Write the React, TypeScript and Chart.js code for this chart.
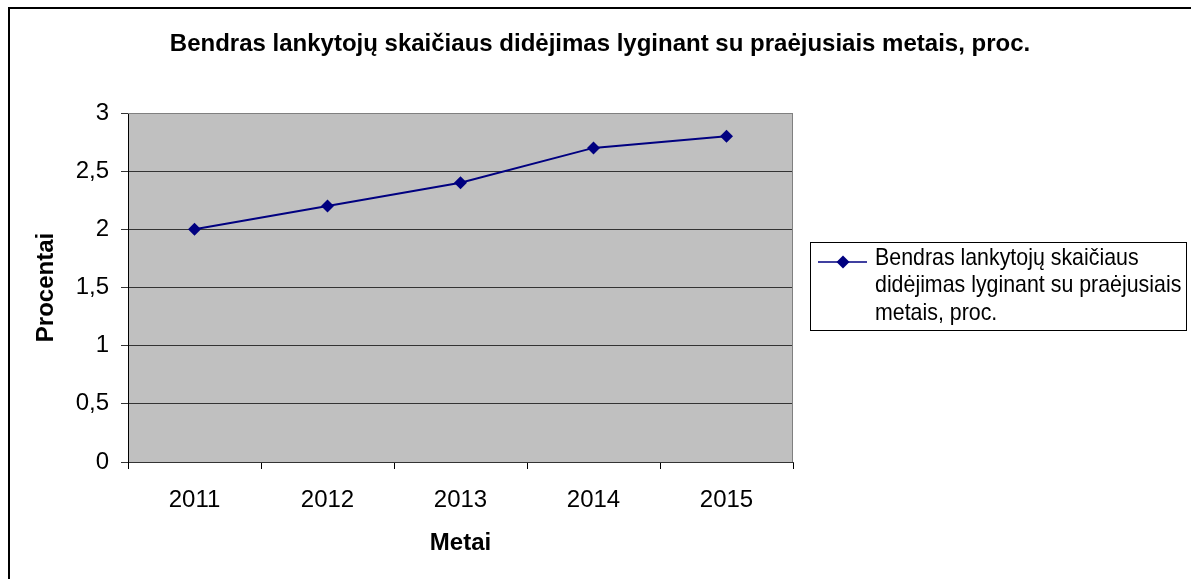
import React, { useEffect, useRef } from "react";
import { Chart, registerables } from "chart.js";

Chart.register(...registerables);

const years = ["2011", "2012", "2013", "2014", "2015"];
const growth = [2.0, 2.2, 2.4, 2.7, 2.8];
const seriesLabelLines = [
  "Bendras lankytojų skaičiaus",
  "didėjimas lyginant su praėjusiais",
  "metais, proc.",
];
const seriesLabel = seriesLabelLines.join(" ");
const chartTitle = "Bendras lankytojų skaičiaus didėjimas lyginant su praėjusiais metais, proc.";
const yTitle = "Procentai";
const xTitle = "Metai";

const FONT = "'Liberation Sans', Arial, sans-serif";
const W = 1191;
const H = 579;
const AREA = { left: 128, right: 793, top: 113, bottom: 462 };

const decorPlugin = {
  id: "decor",
  beforeDraw(chart: any) {
    const { ctx, chartArea } = chart;
    ctx.save();
    ctx.fillStyle = "#ffffff";
    ctx.fillRect(0, 0, W, H);
    // outer border
    ctx.strokeStyle = "#000000";
    ctx.lineWidth = 2;
    ctx.strokeRect(9, 8, W + 20, H + 20);
    // plot area background
    ctx.fillStyle = "#c0c0c0";
    ctx.fillRect(chartArea.left, chartArea.top, chartArea.right - chartArea.left, chartArea.bottom - chartArea.top);
    ctx.restore();
  },
  afterDraw(chart: any) {
    const { ctx, chartArea } = chart;
    ctx.save();
    // plot area border top/right
    ctx.strokeStyle = "#808080";
    ctx.lineWidth = 1;
    ctx.beginPath();
    ctx.moveTo(chartArea.left, chartArea.top + 0.5);
    ctx.lineTo(chartArea.right - 0.5, chartArea.top + 0.5);
    ctx.lineTo(chartArea.right - 0.5, chartArea.bottom);
    ctx.stroke();

    // title
    ctx.fillStyle = "#000000";
    ctx.font = `bold 24px ${FONT}`;
    ctx.textAlign = "center";
    ctx.textBaseline = "middle";
    ctx.fillText(chartTitle, 600, 44);

    // legend
    const ds = chart.data.datasets[0];
    const bx = 810.5, by = 242.5, bw = 376, bh = 88;
    ctx.strokeStyle = "#000000";
    ctx.lineWidth = 1;
    ctx.strokeRect(bx, by, bw, bh);
    const ly = 262;
    ctx.strokeStyle = ds.borderColor;
    ctx.lineWidth = 1.5;
    ctx.beginPath();
    ctx.moveTo(818, ly);
    ctx.lineTo(867, ly);
    ctx.stroke();
    ctx.fillStyle = ds.pointBackgroundColor;
    const r = 6.5;
    ctx.beginPath();
    ctx.moveTo(843, ly - r);
    ctx.lineTo(843 + r, ly);
    ctx.lineTo(843, ly + r);
    ctx.lineTo(843 - r, ly);
    ctx.closePath();
    ctx.fill();
    ctx.fillStyle = "#000000";
    ctx.font = `24px ${FONT}`;
    ctx.textAlign = "left";
    ctx.textBaseline = "middle";
    ctx.translate(875, 0);
    ctx.scale(0.89, 1);
    seriesLabelLines.forEach((line, i) => {
      ctx.fillText(line, 0, 258 + i * 27.5);
    });
    ctx.restore();
  },
};

export default function App() {
  const ref = useRef<HTMLCanvasElement | null>(null);

  useEffect(() => {
    if (!ref.current) return;
    const chart = new Chart(ref.current, {
      type: "line",
      data: {
        labels: years,
        datasets: [
          {
            label: seriesLabel,
            data: growth,
            borderColor: "#000080",
            backgroundColor: "#000080",
            pointBackgroundColor: "#000080",
            pointBorderColor: "#000080",
            pointStyle: "rectRot",
            pointRadius: 6.5,
            pointBorderWidth: 0,
            borderWidth: 2,
            tension: 0,
          },
        ],
      },
      options: {
        responsive: false,
        animation: false,
        layout: {
          padding: { left: 0, top: AREA.top, right: W - AREA.right, bottom: 0 },
        },
        plugins: {
          legend: { display: false },
          title: { display: false },
          tooltip: { enabled: false },
        },
        scales: {
          x: {
            type: "category",
            offset: true,
            afterFit(scale: any) {
              scale.height = H - AREA.bottom;
            },
            grid: {
              offset: true,
              drawOnChartArea: false,
              drawTicks: true,
              tickLength: 7,
              color: "#000000",
            },
            border: { display: true, color: "#333333", width: 1 },
            ticks: {
              color: "#000000",
              font: { family: FONT, size: 24 },
              padding: 17,
              maxRotation: 0,
            },
            title: {
              display: true,
              text: xTitle,
              color: "#000000",
              font: { family: FONT, size: 24, weight: "bold" },
              padding: { top: 0, bottom: 21 },
            },
          },
          y: {
            min: 0,
            max: 3,
            afterFit(scale: any) {
              scale.width = AREA.left;
            },
            grid: {
              color: (c: any) => (c.tick && c.tick.value === 3 ? "#808080" : "#333333"),
              tickColor: "#333333",
              drawTicks: true,
              tickLength: 7,
            },
            border: { display: true, color: "#000000", width: 1 },
            ticks: {
              stepSize: 0.5,
              color: "#000000",
              font: { family: FONT, size: 24 },
              padding: 12,
              callback: (v: any) => String(v).replace(".", ","),
            },
            title: {
              display: true,
              text: yTitle,
              color: "#000000",
              font: { family: FONT, size: 24, weight: "bold" },
              padding: { top: 32, bottom: 0 },
            },
          },
        },
      },
      plugins: [decorPlugin],
    });
    return () => chart.destroy();
  }, []);

  return (
    <div style={{ position: "fixed", left: 0, top: 0, width: W, height: H }}>
      <canvas ref={ref} width={W} height={H} style={{ display: "block" }} />
    </div>
  );
}
